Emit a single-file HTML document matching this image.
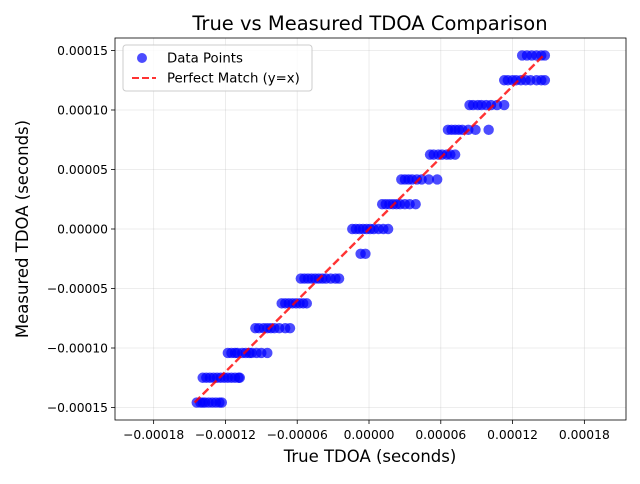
<!DOCTYPE html>
<html><head><meta charset="utf-8"><style>
body{margin:0;background:#fff;font-family:"DejaVu Sans","Liberation Sans",sans-serif}
</style></head><body>
<svg id="chart" width="640" height="480" xmlns="http://www.w3.org/2000/svg" font-family="DejaVu Sans, Liberation Sans, sans-serif">
<rect width="640" height="480" fill="#fff"/>
<g id="grid"></g><g id="marks"></g><g id="axes"></g>
<text x="370" y="30" font-size="19.5" text-anchor="middle">True vs Measured TDOA Comparison</text>
<text x="370" y="462" font-size="16.5" text-anchor="middle">True TDOA (seconds)</text>
<text transform="translate(28,229) rotate(-90)" font-size="16.5" text-anchor="middle">Measured TDOA (seconds)</text>
<g>
<rect x="123" y="45" width="189" height="46" rx="3" fill="#fff" fill-opacity="0.8" stroke="#ccc"/>
<circle cx="142" cy="58" r="5" fill="#0000ff" fill-opacity="0.7"/>
<text x="167" y="62.5" font-size="13.3">Data Points</text>
<line x1="132" y1="78" x2="156" y2="78" stroke="#ff0000" stroke-opacity="0.8" stroke-width="2" stroke-dasharray="7,3"/>
<text x="167" y="82.5" font-size="13.3">Perfect Match (y=x)</text>
</g>
</svg>
<script>
// true TDOA values in microseconds, grouped by measured level index k (measured = k*20.833 us)
const levels = [-7,-6,-5,-4,-3,-2,-1,0,1,2,3,4,5,6,7];
const trueValues = [
 [-144,-141,-139,-137,-134,-131,-128,-125,-123],
 [-139,-136,-133,-130,-127,-124,-121,-118,-115,-112,-109,-108],
 [-118,-115,-112,-110,-106,-103,-100,-98,-94,-90,-85],
 [-95,-92,-88,-85,-82,-79,-75,-70,-66],
 [-73,-70,-67,-64,-61,-58,-55,-52],
 [-57,-54,-51,-48,-45,-42,-39,-36,-32,-28,-25],
 [-7,-3],
 [-14,-11,-8,-5,-2,1,4,8,12,16],
 [11,14,17,20,23,26,30,34,39],
 [27,30,33,36,40,44,50,57],
 [51,54,58,61,65,68,72],
 [66,69,72,75,78,83,89,100],
 [84,87,91,94,98,102,107,113],
 [113,116,120,123,127,131,135,140,144,147],
 [128,132,136,140,144,147]
];
const xTicks = [-180,-120,-60,0,60,120,180];
const xTickLabels = ["−0.00018","−0.00012","−0.00006","0.00000","0.00006","0.00012","0.00018"];
const yTicks = [-150,-100,-50,0,50,100,150];
const yTickLabels = ["−0.00015","−0.00010","−0.00005","0.00000","0.00005","0.00010","0.00015"];
const stepUs = 20.8333;
const lineRange = [-145.8,145.8];

const L=115,R=626,T=38,B=420;
const xMin=-212.3,xMax=214.8,yMin=-160.5,yMax=160.5;
const sx=v=>L+(v-xMin)/(xMax-xMin)*(R-L);
const sy=v=>B-(v-yMin)/(yMax-yMin)*(B-T);
const NS="http://www.w3.org/2000/svg";
function mk(tag,attrs,parent){const e=document.createElementNS(NS,tag);for(const k in attrs)e.setAttribute(k,attrs[k]);parent.appendChild(e);return e;}
const grid=document.getElementById('grid'),marks=document.getElementById('marks'),axes=document.getElementById('axes');
xTicks.forEach((t,i)=>{
 const x=sx(t);
 const g=mk('line',{x1:x,x2:x,y1:T,y2:B,stroke:'#b0b0b0','stroke-opacity':0.3,'stroke-width':0.8},grid);
 
 
 mk('line',{x1:x,x2:x,y1:B,y2:B+4,stroke:'#000','stroke-width':0.8},axes);
 const tx=mk('text',{x:x,y:B+19,'font-size':12.3,'text-anchor':'middle'},axes);
 tx.textContent=xTickLabels[i];
 
 
});
yTicks.forEach((t,i)=>{
 const y=sy(t);
 const g=mk('line',{x1:L,x2:R,y1:y,y2:y,stroke:'#b0b0b0','stroke-opacity':0.3,'stroke-width':0.8},grid);
 
 
 mk('line',{x1:L-4,x2:L,y1:y,y2:y,stroke:'#000','stroke-width':0.8},axes);
 const tx=mk('text',{x:L-7,y:y+4.5,'font-size':12.3,'text-anchor':'end'},axes);
 tx.textContent=yTickLabels[i];
 
 
});
levels.forEach((k,i)=>{
 trueValues[i].forEach(v=>{
  const c=mk('circle',{cx:sx(v),cy:sy(k*stepUs),r:5.2,fill:'#0000ff','fill-opacity':0.7},marks);
  
  
 });
});
const pl=mk('line',{x1:sx(lineRange[0]),y1:sy(lineRange[0]),x2:sx(lineRange[1]),y2:sy(lineRange[1]),stroke:'#ff0000','stroke-opacity':0.8,'stroke-width':2.4,'stroke-dasharray':'8,3.5'},marks);


const fr=mk('rect',{x:L,y:T,width:R-L,height:B-T,fill:'none',stroke:'#000','stroke-width':0.8},axes);


</script>
</body></html>
